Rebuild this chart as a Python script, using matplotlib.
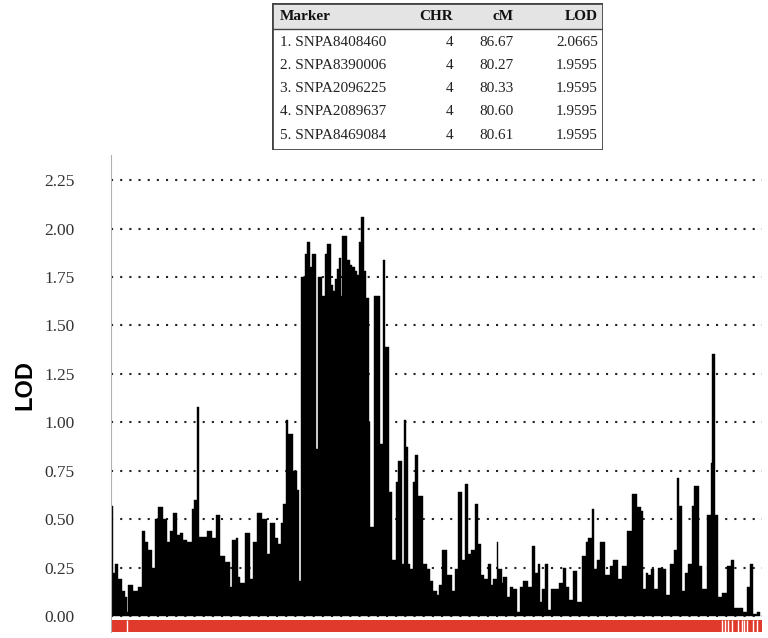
import matplotlib.pyplot as plt
import numpy as np

# LOD profile: marker position (arbitrary map units) and LOD score
positions = [0, 2, 4, 7, 11, 14, 16, 17, 22, 27, 31, 34, 37, 41, 44, 47, 52, 56, 59, 62,
             66, 69, 72, 76, 81, 83, 86, 88, 92, 96, 101, 105, 109, 114, 119, 121, 125,
             127, 129, 134, 139, 142, 146, 151, 156, 159, 164, 167, 170, 172, 175, 177,
             182, 186, 188,
             190, 194, 196, 199, 201, 205, 207, 211, 214, 216, 220, 222, 224, 226, 228,
             230, 231, 236, 239, 241, 244, 246, 248, 250, 253, 255,
             258, 259, 263, 269, 272, 274, 278, 281, 285, 287, 291, 293, 295, 297, 299,
             302, 304, 307, 312, 316, 319, 322, 326, 328, 331, 336, 341, 344, 347, 351,
             354, 357, 360, 364, 367, 370, 373, 377, 380, 382, 386, 387, 391, 392, 396,
             399, 402, 406, 409, 412, 417, 421, 424, 427, 429, 431, 434, 437, 440, 444,
             448, 452, 455, 458, 462, 466, 471, 475, 477, 481, 483, 486, 489, 494, 499,
             502, 507, 511, 516, 521, 526, 530, 532, 535, 537, 540, 543, 547, 552, 555,
             559, 563, 566, 568, 571, 574, 577, 581, 583, 588, 591, 596, 600, 601, 604,
             607, 611, 616, 620, 623, 627, 632, 636, 639, 642, 646, 649]
lod = [0.57, 0.22, 0.27, 0.19, 0.13, 0.10, 0.02, 0.16, 0.13, 0.15, 0.44, 0.38, 0.34,
       0.25, 0.50, 0.56, 0.50, 0.38, 0.44, 0.53, 0.42, 0.43, 0.39, 0.38, 0.55, 0.60, 1.08,
       0.41, 0.41, 0.44, 0.40, 0.52, 0.31, 0.28, 0.15, 0.39, 0.40,
       0.20, 0.17, 0.43, 0.19, 0.38, 0.53, 0.50, 0.32, 0.48, 0.40, 0.37, 0.48, 0.58,
       1.01, 0.94, 0.75, 0.65, 0.18,
       1.75, 1.87, 1.93, 1.80, 1.87, 0.86, 1.75, 1.65, 1.87, 1.92, 1.71, 1.68, 1.74,
       1.79, 1.85, 1.65, 1.96, 1.84, 1.81, 1.80, 1.78, 1.76, 1.93, 2.06, 1.78, 1.64,
       1.00, 0.46, 1.65, 0.89, 1.84, 1.39, 0.64, 0.29, 0.69, 0.80, 0.27, 1.01, 0.87,
       0.27, 0.24, 0.69, 0.83, 0.62, 0.27, 0.24, 0.18, 0.13, 0.11, 0.16, 0.34, 0.21,
       0.13, 0.24, 0.64, 0.29, 0.68, 0.32, 0.34, 0.58, 0.37, 0.21, 0.19, 0.27, 0.16,
       0.19, 0.38, 0.24, 0.17, 0.20, 0.10, 0.15, 0.14, 0.02, 0.15, 0.18, 0.15, 0.36,
       0.22, 0.27, 0.07, 0.14, 0.27, 0.03, 0.14, 0.14, 0.17, 0.25, 0.15, 0.08, 0.23,
       0.07, 0.31, 0.38, 0.40, 0.55, 0.24, 0.29, 0.38, 0.21, 0.26, 0.29, 0.19, 0.26,
       0.44, 0.63, 0.56, 0.54, 0.14, 0.22, 0.21, 0.24, 0.14, 0.25, 0.24, 0.11, 0.27,
       0.34, 0.71, 0.57, 0.13, 0.22, 0.27, 0.57, 0.67, 0.26, 0.14, 0.52, 0.79, 1.35,
       0.52, 0.10, 0.12, 0.26, 0.29, 0.04, 0.04, 0.02, 0.15, 0.27, 0.01, 0.02, 0.02]

# gaps in the marker track under the plot
track_gaps = [16, 611, 614, 617, 621, 627, 631, 633, 636, 642, 646]

# top 5 table
markers = ['1. SNPA8408460', '2. SNPA8390006', '3. SNPA2096225', '4. SNPA2089637', '5. SNPA8469084']
chrs = ['4', '4', '4', '4', '4']
cms = ['86.67', '80.27', '80.33', '80.60', '80.61']
lods = ['2.0665', '1.9595', '1.9595', '1.9595', '1.9595']

yticks = [0, 0.25, 0.5, 0.75, 1.0, 1.25, 1.5, 1.75, 2.0, 2.25]

fig = plt.figure(figsize=(7.68, 6.38), dpi=100)
ax = fig.add_axes([111/768, 6/638, 651/768, 477/638])

for t in yticks:
    ax.axhline(t, color='#222222', lw=1.5, ls=(0, (1, 3.4)), zorder=1)

ax.fill_between(positions, lod, 0, step='post', color='black', lw=0.3, edgecolor='black', zorder=2)
ax.axhspan(-0.083, -0.02, color='#e03a2c', lw=0, zorder=2)
ax.vlines(track_gaps, -0.083, -0.02, color='white', lw=1, zorder=3)

ax.set_xlim(0, 651)
ax.set_ylim(-0.083, 2.38)
ax.set_xticks([])
ax.set_yticks(yticks)
ax.set_yticklabels(['%.2f' % t for t in yticks], fontfamily='Liberation Serif', fontsize=12.5, color='#333333')
ax.tick_params(axis='y', length=0, pad=26)
for s in ['top', 'right', 'bottom']:
    ax.spines[s].set_visible(False)
ax.spines['left'].set_color('#b0b0b0')
ax.set_ylabel('LOD', fontfamily='Liberation Sans', fontweight='bold', fontsize=17)
ax.yaxis.set_label_coords(-0.115, 0.518)

# table box
tab = fig.add_axes([272/768, 1 - 150/638, 331/768, 147/638])
tab.set_xlim(0, 331)
tab.set_ylim(147, 0)
tab.axis('off')
tab.add_patch(plt.Rectangle((0, 0), 331, 26, facecolor='#e4e4e4', edgecolor='none'))
tab.plot([0, 331], [26, 26], color='#444444', lw=1)
tab.add_patch(plt.Rectangle((0, 0), 331, 147, facecolor='none', edgecolor='#444444', lw=2))
hdr = dict(fontfamily='Liberation Serif', fontweight='bold', fontsize=11, color='#111111', va='center')
tab.text(8, 14, 'Marker', ha='left', **hdr)
tab.text(181, 14, 'CHR', ha='right', **hdr)
tab.text(242, 14, 'cM', ha='right', **hdr)
tab.text(326, 14, 'LOD', ha='right', **hdr)
cell = dict(fontfamily='Liberation Serif', fontsize=11, color='#222222', va='center')
for i in range(len(markers)):
    y = 39 + i * 23.3
    tab.text(8, y, markers[i], ha='left', **cell)
    tab.text(181, y, chrs[i], ha='right', **cell)
    tab.text(242, y, cms[i], ha='right', **cell)
    tab.text(326, y, lods[i], ha='right', **cell)

fig.savefig('out.png', dpi=100)
